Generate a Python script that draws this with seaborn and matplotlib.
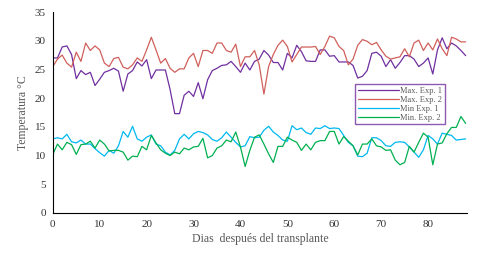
import numpy as np
import pandas as pd
import seaborn as sns
import matplotlib.pyplot as plt

dias = list(range(89))

max_exp1 = [27.0, 27.0, 28.9, 29.1, 27.6, 23.4, 24.8, 24.1, 24.5, 22.2,
            23.3, 24.5, 24.8, 25.2, 24.7, 21.2, 24.2, 24.8, 26.3, 25.6,
            26.7, 23.4, 24.9, 24.9, 24.9, 21.5, 17.3, 17.3, 20.5, 21.2,
            20.3, 22.7, 19.9, 23.2, 24.8, 25.2, 25.7, 25.8, 26.4, 25.5,
            24.5, 26.1, 24.9, 26.4, 26.8, 28.3, 27.5, 26.2, 26.2, 24.9,
            27.8, 27.0, 29.2, 28.1, 26.5, 26.4, 26.4, 28.4, 28.4, 27.3,
            27.4, 26.3, 26.3, 26.3, 25.7, 23.5, 23.8, 24.8, 27.8, 28.0,
            27.3, 25.5, 26.7, 25.2, 26.2, 27.4, 27.4, 26.8, 25.5, 26.1,
            27.0, 24.2, 28.4, 30.5, 28.6, 29.6, 29.1, 28.3, 27.4]

max_exp2 = [25.5, 26.8, 27.5, 26.1, 25.4, 28.0, 26.4, 29.6, 28.3, 29.1,
            28.4, 26.1, 25.5, 26.9, 27.1, 25.4, 25.1, 25.8, 27.0, 26.4,
            28.4, 30.6, 28.4, 26.1, 26.9, 25.2, 24.5, 25.1, 25.1, 27.0,
            27.8, 25.5, 28.3, 28.3, 27.8, 29.6, 29.6, 28.3, 28.0, 29.4,
            25.5, 27.2, 27.2, 28.3, 25.8, 20.7, 25.5, 27.6, 29.2, 30.1,
            29.0, 26.3, 27.6, 28.9, 28.9, 28.9, 29.0, 27.6, 29.0, 30.8,
            30.5, 29.0, 28.3, 25.8, 26.8, 29.2, 30.2, 29.9, 29.3, 29.7,
            28.4, 27.3, 26.8, 27.0, 27.2, 28.6, 27.2, 29.6, 30.1, 28.3,
            29.6, 28.4, 30.3, 28.6, 27.4, 30.6, 30.3, 29.8, 29.8]

min_exp1 = [12.9, 13.1, 12.9, 13.7, 12.4, 12.2, 12.7, 12.0, 12.0, 11.2,
            10.5, 9.9, 10.9, 10.4, 11.7, 14.2, 13.2, 15.1, 12.9, 12.5,
            13.2, 13.6, 12.0, 11.7, 10.6, 10.1, 10.9, 12.9, 13.7, 12.9,
            13.8, 14.2, 14.0, 13.6, 12.8, 12.5, 13.1, 14.1, 13.2, 12.3,
            11.5, 11.7, 13.3, 13.1, 13.2, 14.4, 15.1, 14.1, 13.5, 12.7,
            12.5, 15.2, 14.5, 14.8, 14.0, 13.7, 14.8, 14.7, 15.2, 14.7,
            14.8, 14.7, 13.5, 12.3, 11.7, 9.9, 9.8, 10.4, 13.1, 13.1,
            12.6, 11.7, 11.6, 12.3, 12.4, 12.3, 11.5, 10.6, 9.7, 11.0,
            13.5, 12.9, 12.0, 13.9, 13.7, 13.5, 12.7, 12.8, 12.9]

min_exp2 = [10.2, 12.0, 11.0, 12.3, 11.9, 10.2, 11.9, 12.0, 12.5, 11.3,
            12.7, 12.0, 10.8, 10.9, 10.9, 10.6, 9.2, 9.9, 9.8, 11.6,
            11.0, 13.5, 12.2, 11.0, 10.4, 10.0, 10.6, 10.3, 11.3, 11.0,
            11.5, 11.6, 13.0, 9.6, 10.0, 11.3, 11.7, 12.7, 12.4, 14.1,
            11.5, 8.1, 10.9, 13.2, 13.6, 12.0, 10.3, 8.8, 11.6, 11.6,
            13.2, 12.7, 12.3, 10.9, 12.0, 11.0, 12.3, 12.6, 12.6, 14.2,
            14.2, 12.0, 13.3, 12.5, 11.7, 10.1, 12.0, 12.0, 12.9, 11.7,
            11.5, 10.9, 11.0, 9.2, 8.4, 8.8, 11.6, 10.6, 12.3, 13.9,
            13.2, 8.4, 12.0, 12.2, 13.8, 14.9, 14.9, 16.8, 15.6]

nombres = ["Max. Exp. 1", "Max. Exp. 2", "Min Exp. 1", "Min. Exp. 2"]
colores = ["#7030A0", "#D0605C", "#00B8F0", "#00B050"]

df = pd.DataFrame({"dia": dias,
                   nombres[0]: max_exp1,
                   nombres[1]: max_exp2,
                   nombres[2]: min_exp1,
                   nombres[3]: min_exp2})
largo = df.melt(id_vars="dia", var_name="serie", value_name="temp")

sns.set_style("white")
plt.rcParams["font.family"] = ["Liberation Serif", "DejaVu Serif"]
gris = "#595959"

fig = plt.figure(figsize=(4.8, 2.61), dpi=100)
ax = fig.add_axes([0.110, 0.184, 0.863, 0.770])
sns.lineplot(data=largo, x="dia", y="temp", hue="serie",
             palette=colores, linewidth=0.9, ax=ax)

ax.set_xlim(0, 88.3)
ax.set_ylim(0, 35)
ax.set_xticks(np.arange(0, 90, 5))
ax.set_xticklabels([str(v) if v % 10 == 0 else "" for v in range(0, 90, 5)])
ax.set_yticks(np.arange(0, 36, 5))
ax.tick_params(axis="both", direction="out", length=3, width=0.8,
               labelsize=8, colors="black", labelcolor="#333333", pad=2)
for s in ["top", "right"]:
    ax.spines[s].set_visible(False)
for s in ["left", "bottom"]:
    ax.spines[s].set_color("black")
    ax.spines[s].set_linewidth(0.8)

ax.set_xlabel("Dias  después del transplante", fontsize=8.5, color=gris, labelpad=3)
ax.set_ylabel("Temperatura °C", fontsize=8.5, color=gris, labelpad=4)

leg = ax.legend(loc="upper left", bbox_to_anchor=(0.73, 0.64), fontsize=6,
                frameon=True, fancybox=False, handlelength=5.0,
                borderpad=0.3, labelspacing=0.12, handletextpad=0.1,
                borderaxespad=0)
leg.get_frame().set_edgecolor("#7030A0")
leg.get_frame().set_linewidth(1.0)
for t in leg.get_texts():
    t.set_color(gris)

fig.savefig("out.png", dpi=100)
